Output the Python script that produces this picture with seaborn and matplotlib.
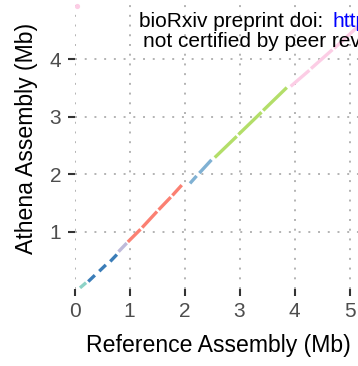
import pandas as pd
import matplotlib.pyplot as plt
import seaborn as sns


# =========================
# Dados: blocos de alinhamento (Mb)
# =========================

seg_contig = ['c1', 'c2', 'c2', 'c2', 'c3',
              'c4', 'c4', 'c4', 'c4',
              'c5', 'c5',
              'c6', 'c6', 'c6',
              'c7', 'c7', 'c7']
ref_start = [0.10, 0.25, 0.45, 0.65, 0.80,
             0.97, 1.23, 1.53, 1.78,
             2.10, 2.27,
             2.55, 2.98, 3.43,
             3.93, 4.30, 4.72]
ref_end = [0.21, 0.37, 0.57, 0.77, 0.95,
           1.20, 1.50, 1.75, 1.95,
           2.22, 2.49,
           2.95, 3.40, 3.86,
           4.27, 4.69, 5.15]
ath_start = [0.02, 0.13, 0.31, 0.48, 0.65,
             0.82, 1.07, 1.38, 1.63,
             1.84, 2.02,
             2.29, 2.69, 3.11,
             3.53, 3.84, 4.19]
ath_end = [0.11, 0.24, 0.42, 0.60, 0.80,
           1.04, 1.35, 1.60, 1.81,
           1.97, 2.25,
           2.66, 3.08, 3.51,
           3.81, 4.17, 4.57]

outlier_ref = [0.04]
outlier_ath = [4.93]

contig_colors = {
    'c1': '#8DD3C7',
    'c2': '#3B7DB8',
    'c3': '#BEBADA',
    'c4': '#FB8072',
    'c5': '#80B1D3',
    'c6': '#B3DE69',
    'c7': '#FCCDE5',
}

x_ticks = [0, 1, 2, 3, 4, 5]
y_ticks = [1, 2, 3, 4]


# formato longo para o seaborn
rows = []
for i in range(len(seg_contig)):
    rows.append({'seg': i, 'contig': seg_contig[i], 'ref': ref_start[i], 'ath': ath_start[i]})
    rows.append({'seg': i, 'contig': seg_contig[i], 'ref': ref_end[i], 'ath': ath_end[i]})
df = pd.DataFrame(rows)


# =========================
# Figura
# =========================

sns.set_style('white')
plt.rcParams['font.family'] = ['Liberation Sans', 'DejaVu Sans']

fig = plt.figure(figsize=(3.58, 3.66), dpi=100)
ax = fig.add_axes([74.5 / 358, 77 / 366, 283.5 / 358, 289 / 366])

sns.lineplot(
    data=df,
    x='ref',
    y='ath',
    hue='contig',
    units='seg',
    estimator=None,
    sort=False,
    palette=contig_colors,
    linewidth=2.4,
    legend=False,
    ax=ax
)
for line in ax.get_lines():
    line.set_solid_capstyle('butt')

sns.scatterplot(
    x=outlier_ref,
    y=outlier_ath,
    color='#FCCDE5',
    s=14,
    linewidth=0,
    ax=ax
)

ax.set_xlim(0, 283.5 / 55)
ax.set_ylim(0, 289 / 57.4)
ax.set_xticks(x_ticks)
ax.set_yticks(y_ticks)
ax.set_xticklabels([str(t) for t in x_ticks])
ax.set_yticklabels([str(t) for t in y_ticks])

ax.grid(True, color='#b3b3b3', linestyle=(0, (1, 4)), linewidth=1.4)
ax.set_axisbelow(True)
for s in ax.spines.values():
    s.set_visible(False)

ax.tick_params(axis='both', which='major', length=5, width=1.5, color='#333333',
               labelsize=15, labelcolor='#4D4D4D', pad=4.5,
               bottom=True, left=True)
ax.set_xlabel('')
ax.set_ylabel('')

fig.text(218 / 358, 1 - 351.7 / 366, 'Reference Assembly (Mb)',
         ha='center', va='baseline', fontsize=16.6, color='black')
fig.text(26.7 / 358, 1 - 138 / 366, 'Athena Assembly (Mb)',
         ha='center', va='center', rotation=90, fontsize=16.6, color='black')

# marca d'agua do preprint (cortada na borda, como no original)
fig.text(139.3 / 358, 1 - 26.7 / 366, 'bioRxiv preprint doi: ',
         ha='left', va='baseline', fontsize=15, color='black')
fig.text(332.3 / 358, 1 - 26.7 / 366, 'https://doi.org/',
         ha='left', va='baseline', fontsize=15, color='#0000FF')
fig.text(142.7 / 358, 1 - 46.7 / 366, 'not certified by peer review)',
         ha='left', va='baseline', fontsize=15, color='black')

plt.savefig('out.png', dpi=100)
